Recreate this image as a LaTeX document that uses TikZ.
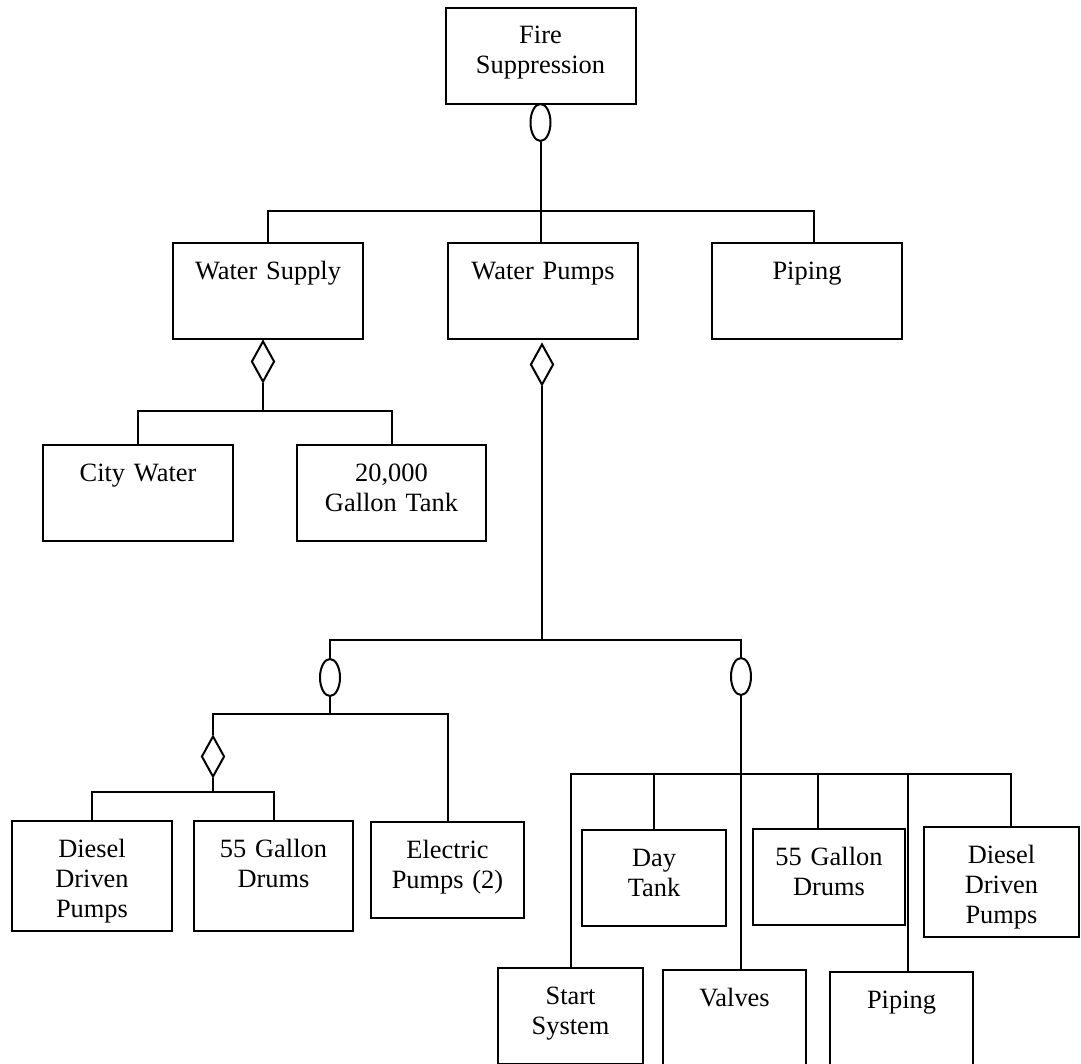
\documentclass[tikz,border=0pt]{standalone}
\usepackage{fontspec}
\setmainfont{Liberation Serif}
\usetikzlibrary{shapes.geometric}

\begin{document}
\begin{tikzpicture}[x=0.5pt,y=-0.5pt]
    \pgfmathsetmacro{\picw}{1081}
    \pgfmathsetmacro{\pich}{1064}
    \tikzset{unit/.style={draw,line width=1pt,anchor=north,inner xsep=0pt,inner ysep=0pt,align=center,font=\fontsize{13.2}{15}\selectfont,text height=18pt,text depth=30pt,text width=95pt}}
    \tikzset{decomp/.style={ellipse,draw,line width=1pt,anchor=north,inner sep=0pt,minimum width=10pt,minimum height=18.5pt}}
    \tikzset{alt/.style={diamond,draw,line width=1pt,anchor=north,inner sep=0pt,minimum width=11.5pt,minimum height=20.5pt}}
    \tikzset{link/.style={line width=1pt}}
    \path[fill=white,use as bounding box] (0,0) rectangle (\picw,\pich);
    \clip (0,0) rectangle (\picw,\pich);
    % boxes
    \node[unit] (fire) at (540.5,7) {Fire\\Suppression};
    \node[unit] (water_supply) at (268,242) {Water Supply};
    \node[unit] (water_pumps) at (543,242) {Water Pumps};
    \node[unit] (piping_a) at (807,242) {Piping};
    \node[unit] (city_water) at (138,444) {City Water};
    \node[unit,text width=94.5pt] (tank) at (391.5,444) {20,000\\Gallon Tank};
    \node[unit,text width=80pt,text depth=37pt] (diesel_a) at (92,820) {Diesel\\Driven\\Pumps};
    \node[unit,text width=79.5pt,text depth=37pt] (drums_a) at (273.5,820) {55 Gallon\\Drums};
    \node[unit,text width=76.5pt] (electric) at (447.5,821) {Electric\\Pumps (2)};
    \node[unit,text width=72pt] (day_tank) at (654,829) {Day\\Tank};
    \node[unit,text width=76pt] (drums_b) at (829,828) {55 Gallon\\Drums};
    \node[unit,text width=77.5pt,text depth=37pt] (diesel_b) at (1001.5,826) {Diesel\\Driven\\Pumps};
    \node[unit,text width=72.5pt] (start) at (570.5,967) {Start\\System};
    \node[unit,text width=71.5pt] (valves) at (734.5,969) {Valves};
    \node[unit,text width=71.5pt] (piping_b) at (901.5,971) {Piping};
    % ellipses and diamonds
    \node[decomp] (e_fire) at (540.5,103) {};
    \node[alt] (d_supply) at (263,340) {};
    \node[alt] (d_pumps) at (542,343) {};
    \node[decomp] (e_left) at (330,658) {};
    \node[decomp] (e_right) at (741,657) {};
    \node[alt] (d_left) at (213,735) {};
    \coordinate (bar_a) at (540.5,211);
    \coordinate (bar_b) at (263,411);
    \coordinate (bar_c) at (542,640);
    \coordinate (bar_d) at (330,714);
    \coordinate (bar_e) at (213,792);
    \coordinate (bar_f) at (741,774);
    % connectors
    \draw[link] (e_fire.south) -- (e_fire.south |- water_pumps.north);
    \draw[link] (water_supply.north) |- (bar_a) -| ([xshift=3.5pt]piping_a.north);
    \draw[link] (d_supply.south) -- (bar_b);
    \draw[link] (city_water.north) |- (bar_b) -| (tank.north);
    \draw[link] (d_pumps.south) -- (bar_c);
    \draw[link] (e_left.north) |- (bar_c) -| (e_right.north);
    \draw[link] (e_left.south) -- (bar_d);
    \draw[link] (d_left.north) |- (bar_d) -| (electric.north);
    \draw[link] (d_left.south) -- (bar_e);
    \draw[link] (diesel_a.north) |- (bar_e) -| (drums_a.north);
    \draw[link] (e_right.south) -- (e_right.south |- valves.north);
    \draw[link] (start.north) |- (bar_f) -| ([xshift=4.75pt]diesel_b.north);
    \draw[link] (day_tank.north) -- (day_tank.north |- bar_f);
    \draw[link] ([xshift=-5.5pt]drums_b.north) -- ([xshift=-5.5pt]drums_b.north |- bar_f);
    \draw[link] ([xshift=3.25pt]piping_b.north) -- ([xshift=3.25pt]piping_b.north |- bar_f);
\end{tikzpicture}
\end{document}
